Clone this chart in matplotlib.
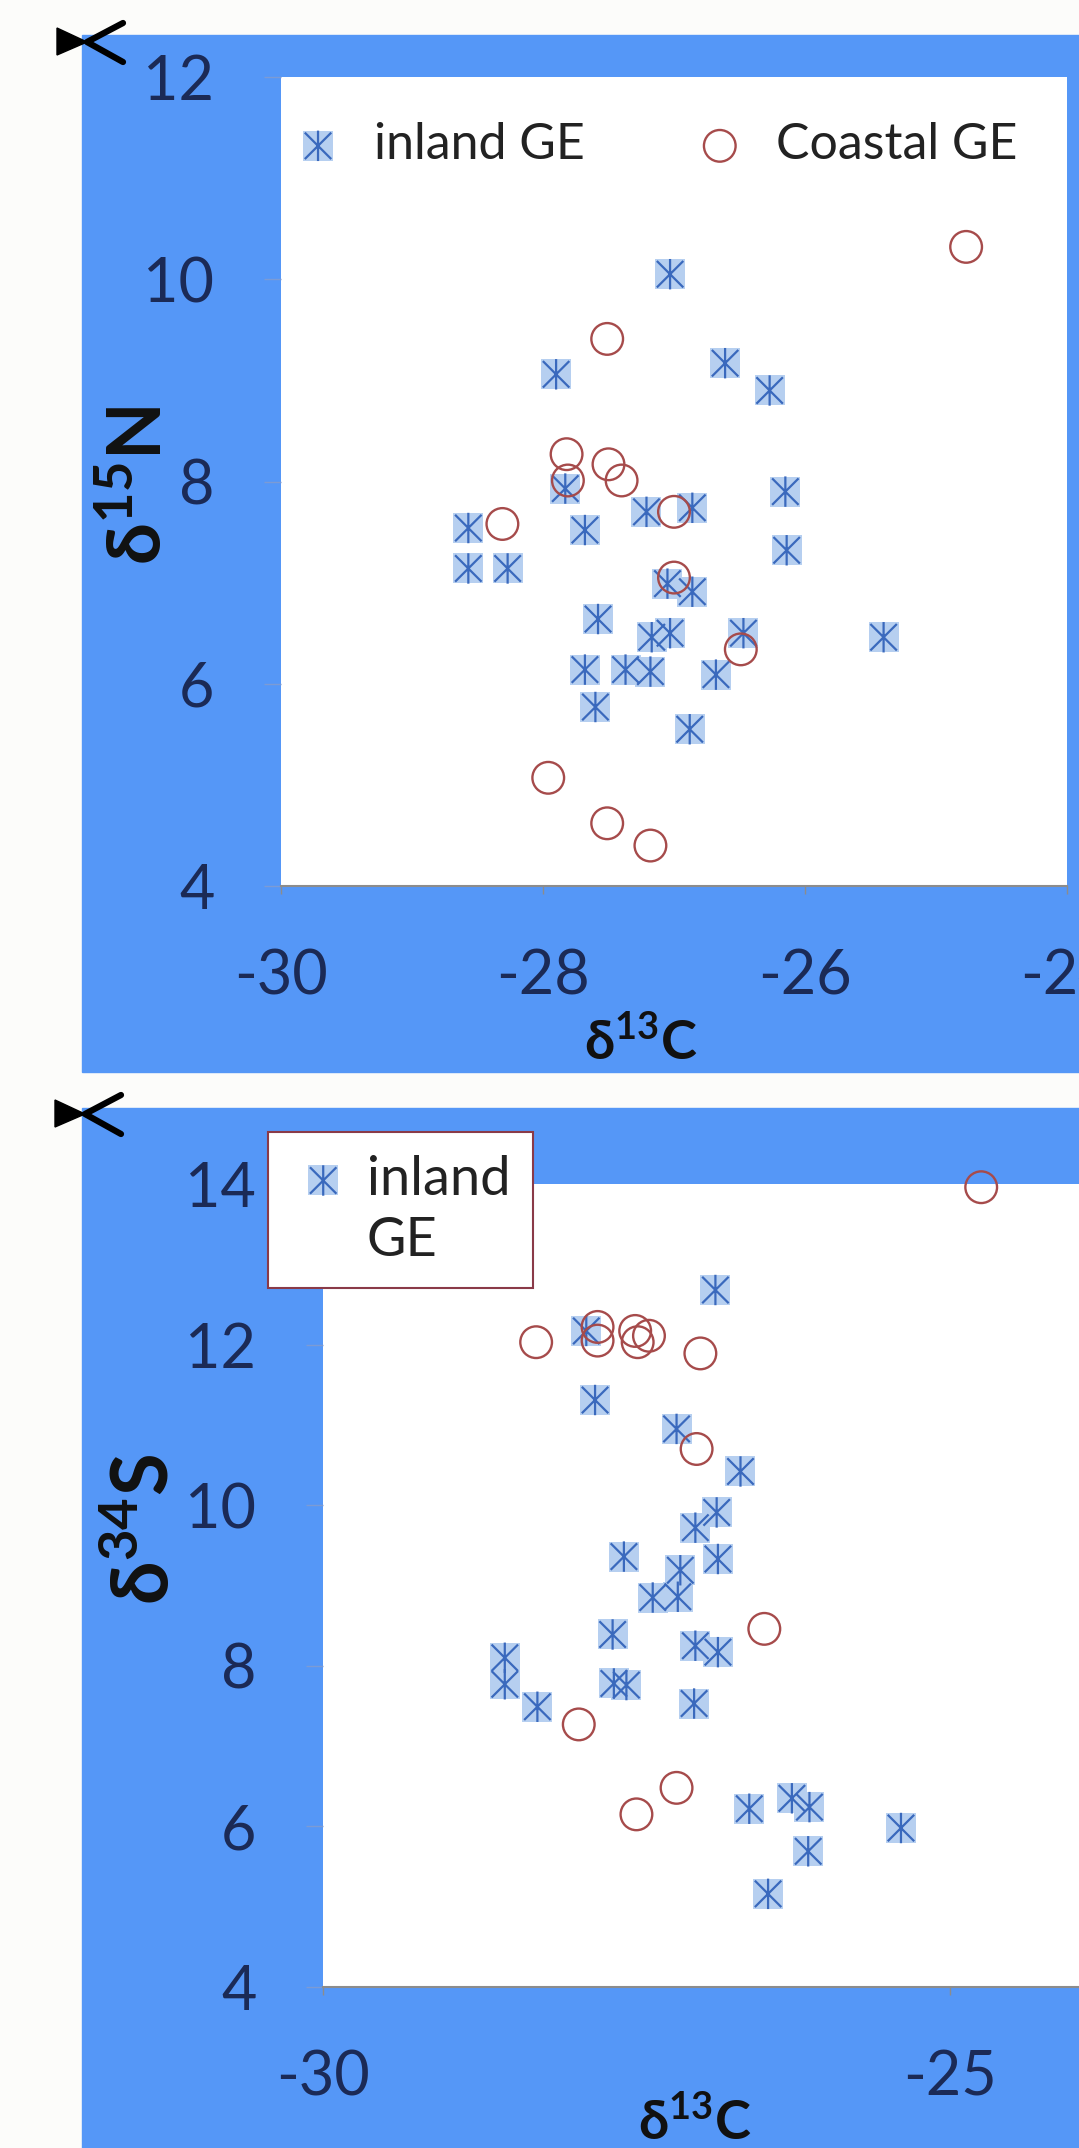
import matplotlib.pyplot as plt
from matplotlib.patches import Rectangle, Polygon
from matplotlib.lines import Line2D
from matplotlib.path import Path

plt.rcParams['font.family'] = ['Lato', 'DejaVu Sans']
plt.rcParams['axes.unicode_minus'] = False
plt.rcParams['mathtext.fontset'] = 'custom'
plt.rcParams['mathtext.rm'] = 'Lato'
plt.rcParams['mathtext.bf'] = 'Lato:bold'

# ---- top panel: d13C vs d15N ----
top_inland_c = [-27.03, -27.90, -26.61, -26.27, -27.83, -26.15, -27.21, -26.86, -28.57,
                -27.68, -28.57, -28.27, -26.14, -27.05, -26.86, -27.58, -27.17, -27.03,
                -26.47, -25.40, -27.68, -27.37, -27.18, -26.68, -27.60, -26.88]
top_inland_n = [10.05, 9.06, 9.17, 8.90, 7.93, 7.90, 7.70, 7.74, 7.54,
                7.52, 7.14, 7.14, 7.32, 6.99, 6.91, 6.64, 6.46, 6.50,
                6.50, 6.46, 6.14, 6.14, 6.12, 6.09, 5.77, 5.55]
top_coastal_c = [-27.51, -27.82, -27.81, -27.50, -27.40, -28.31, -27.00, -27.00,
                 -26.49, -27.96, -27.51, -27.18, -24.77]
top_coastal_n = [9.41, 8.27, 8.01, 8.17, 8.01, 7.58, 7.70, 7.05,
                 6.34, 5.07, 4.62, 4.40, 10.32]
top_xticks = [-30, -28, -26, -24]
top_yticks = [4, 6, 8, 10, 12]

# ---- bottom panel: d13C vs d34S ----
bot_inland_c = [-26.87, -27.90, -27.83, -27.18, -26.67, -26.86, -27.03, -27.60, -26.85,
                -27.15, -27.17, -27.37, -27.69, -27.03, -26.85, -28.55, -28.55, -27.68,
                -27.58, -28.29, -27.04, -26.60, -26.26, -26.12, -26.13, -25.39, -26.45]
bot_inland_s = [12.68, 12.17, 11.31, 10.95, 10.42, 9.91, 9.72, 9.36, 9.33,
                9.19, 8.86, 8.85, 8.39, 8.25, 8.17, 8.10, 7.77, 7.78,
                7.76, 7.49, 7.53, 6.22, 6.35, 6.24, 5.69, 5.98, 5.16]
bot_coastal_c = [-24.75, -28.30, -27.81, -27.81, -27.51, -27.49, -27.40, -26.99,
                 -27.02, -26.48, -27.96, -27.18, -27.50]
bot_coastal_s = [13.96, 12.03, 12.22, 12.05, 12.17, 12.03, 12.11, 11.89,
                 10.70, 8.46, 7.27, 6.48, 6.15]
bot_xticks = [-30, -25]
bot_yticks = [4, 6, 8, 10, 12, 14]

W, H = 1079, 2148
BLUE = '#5597F7'
NAVY = '#1b2a56'

STAR = Path([(-1, -1), (1, 1), (-1, 1), (1, -1), (0, -1.15), (0, 1.15)],
            [Path.MOVETO, Path.LINETO] * 3)


def fbox(x0, y0, x1, y1):
    # pixel box -> figure fraction [left, bottom, width, height]
    return [x0 / W, 1 - y1 / H, (x1 - x0) / W, (y1 - y0) / H]


def fpt(pts):
    return [(x / W, 1 - y / H) for x, y in pts]


def add_cursor(fig, x, y):
    # little black pointer drawn at the chart corner
    fig.add_artist(Polygon(fpt([(x, y - 14), (x, y + 13), (x + 30, y)]),
                           closed=True, color='black', transform=fig.transFigure, zorder=10))
    fig.add_artist(Line2D(*zip(*fpt([(x + 66, y - 19), (x + 30, y), (x + 66, y + 20)])),
                          color='black', lw=4.5, solid_capstyle='round',
                          transform=fig.transFigure, zorder=10))


def plot_groups(ax, ic, iv, cc, cv):
    sq = ax.scatter(ic, iv, s=480, marker='s', color='#b6cff0', linewidths=0,
                    clip_on=False, zorder=2)
    st = ax.scatter(ic, iv, s=480, marker=STAR, facecolors='none', edgecolors='#3a69bd',
                    linewidths=1.6, clip_on=False, zorder=3)
    ci = ax.scatter(cc, cv, s=520, marker='o', facecolors='none', edgecolors='#a64b4b',
                    linewidths=1.7, clip_on=False, zorder=4)
    return (sq, st), ci


def style_axes(ax, xticks, yticks, xlim, ylim):
    ax.set_facecolor('white')
    ax.set_xlim(xlim)
    ax.set_ylim(ylim)
    ax.set_xticks(xticks)
    ax.set_yticks(yticks)
    for side in ['top', 'right', 'left']:
        ax.spines[side].set_visible(False)
    ax.spines['bottom'].set_color('#8c8c8c')
    ax.spines['bottom'].set_linewidth(1.5)
    ax.tick_params(axis='x', direction='out', length=6, width=1, color='#8c8c8c',
                   pad=39, labelsize=44, labelcolor=NAVY)
    ax.tick_params(axis='y', direction='out', length=12, width=1, color='#7c9bd4',
                   pad=36, labelsize=44, labelcolor=NAVY)


fig = plt.figure(figsize=(W / 100, H / 100), dpi=100)
fig.patch.set_facecolor('#fcfcfa')

# blue chart backgrounds
fig.add_artist(Rectangle((82 / W, 1 - 1072 / H), (W - 82) / W, (1072 - 35) / H,
                         transform=fig.transFigure, color=BLUE, zorder=-5))
fig.add_artist(Rectangle((82 / W, 0), (W - 82) / W, 1 - 1108 / H,
                         transform=fig.transFigure, color=BLUE, zorder=-5))

# ---- top chart ----
ax1 = fig.add_axes(fbox(281, 77, 1067, 886))
style_axes(ax1, top_xticks, top_yticks, (-30, -24), (4, 12))
inl1, coa1 = plot_groups(ax1, top_inland_c, top_inland_n, top_coastal_c, top_coastal_n)
ax1.set_xlabel(r'δ$^{\mathbf{13}}$C', fontsize=39, fontweight='bold', color='#111111', va='center')
ax1.xaxis.set_label_coords(0.458, -0.1928)
ax1.set_ylabel(r'δ$^{\mathbf{15}}$N', fontsize=54, fontweight='bold', color='#111111', va='center')
ax1.yaxis.set_label_coords(-0.182, 0.495)
ax1.legend([inl1, coa1], ['inland GE', 'Coastal GE'], ncol=2, loc='center left',
           bbox_to_anchor=(0.0153, 0.916), frameon=False, fontsize=36,
           handlelength=1.0, handletextpad=0.62, columnspacing=2.2,
           borderpad=0, borderaxespad=0, labelcolor='#222222')
add_cursor(fig, 57, 42)

# ---- bottom chart ----
ax2 = fig.add_axes(fbox(323, 1184, 1079, 1987))
style_axes(ax2, bot_xticks, bot_yticks, (-30, -23.97), (4, 14))
inl2, coa2 = plot_groups(ax2, bot_inland_c, bot_inland_s, bot_coastal_c, bot_coastal_s)
ax2.set_xlabel(r'δ$^{\mathbf{13}}$C', fontsize=39, fontweight='bold', color='#111111', va='center')
ax2.xaxis.set_label_coords(0.492, -0.168)
ax2.set_ylabel(r'δ$^{\mathbf{34}}$S', fontsize=56, fontweight='bold', color='#111111', va='center')
ax2.yaxis.set_label_coords(-0.2354, 0.57)
leg2 = ax2.legend([inl2, Line2D([], [], linestyle='none')], ['inland', 'GE'],
                  loc='upper left', bbox_to_anchor=(-0.0728, 1.0648), borderaxespad=0,
                  fontsize=39, frameon=True, fancybox=False, edgecolor='#8a3a48',
                  framealpha=1, handlelength=1.2, handletextpad=0.2, borderpad=0.42,
                  labelspacing=0.23, labelcolor='#222222')
leg2.get_frame().set_linewidth(1.5)
add_cursor(fig, 55, 1114)

fig.savefig('out.png', dpi=100)
